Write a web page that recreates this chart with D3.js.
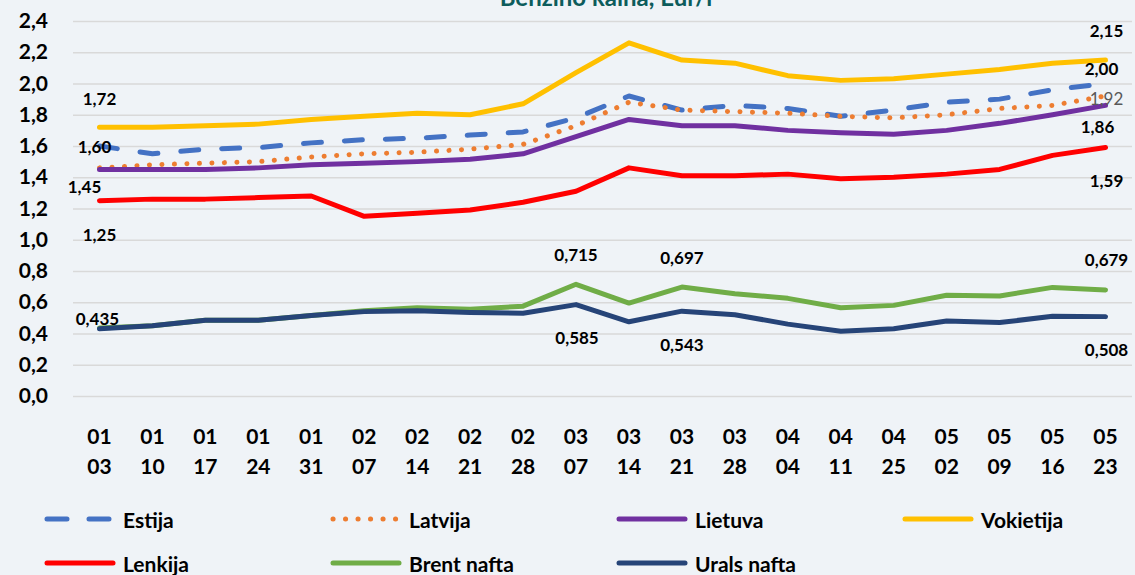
<!DOCTYPE html>
<html>
<head>
<meta charset="utf-8">
<script src="https://cdn.jsdelivr.net/npm/d3@7"></script>
<style>
  body { margin: 0; background: #eff3f7; }
  svg { display: block; font-family: Lato, "Open Sans", sans-serif; }
</style>
</head>
<body>
<svg id="chart" width="1135" height="575"></svg>
<script>
// data
var categories = ["01 03","01 10","01 17","01 24","01 31","02 07","02 14","02 21","02 28","03 07",
                  "03 14","03 21","03 28","04 04","04 11","04 25","05 02","05 09","05 16","05 23"];

var estija    = [1.60,1.55,1.58,1.59,1.62,1.64,1.65,1.67,1.69,1.78,1.92,1.83,1.86,1.84,1.79,1.83,1.88,1.90,1.96,2.00];
var latvija   = [1.46,1.48,1.49,1.50,1.53,1.55,1.56,1.58,1.61,1.73,1.88,1.83,1.82,1.81,1.79,1.78,1.80,1.84,1.86,1.92];
var lietuva   = [1.45,1.45,1.45,1.46,1.48,1.49,1.50,1.515,1.55,1.66,1.77,1.73,1.73,1.70,1.685,1.675,1.70,1.745,1.80,1.86];
var vokietija = [1.72,1.72,1.73,1.74,1.77,1.79,1.81,1.80,1.87,2.07,2.26,2.15,2.13,2.05,2.02,2.03,2.06,2.09,2.13,2.15];
var lenkija   = [1.25,1.26,1.26,1.27,1.28,1.15,1.17,1.19,1.24,1.31,1.46,1.41,1.41,1.42,1.39,1.40,1.42,1.45,1.54,1.59];
var brent     = [0.435,0.45,0.485,0.485,0.515,0.545,0.565,0.555,0.575,0.715,0.595,0.697,0.655,0.625,0.565,0.58,0.645,0.64,0.695,0.679];
var urals     = [0.43,0.45,0.485,0.485,0.515,0.54,0.545,0.535,0.53,0.585,0.475,0.543,0.52,0.46,0.415,0.43,0.48,0.47,0.51,0.508];

var yTicks = [0,0.2,0.4,0.6,0.8,1.0,1.2,1.4,1.6,1.8,2.0,2.2,2.4];
var title = "Benzino kaina, Eur/l";

var series = [
  {name: "Estija",      values: estija,    color: "#4472c4", dash: "18 23"},
  {name: "Latvija",     values: latvija,   color: "#ed7d31", dash: "0.1 12.4"},
  {name: "Lietuva",     values: lietuva,   color: "#7030a0", dash: null},
  {name: "Vokietija",   values: vokietija, color: "#ffc000", dash: null},
  {name: "Lenkija",     values: lenkija,   color: "#ff0000", dash: null},
  {name: "Brent nafta", values: brent,     color: "#70ad47", dash: null},
  {name: "Urals nafta", values: urals,     color: "#264478", dash: null}
];

// which points get a value label: [series index, point index, decimals, dx, dy, grey]
var labels = [
  [3, 0, 2, 0, -29], [0, 0, 2, -5, 0], [2, 0, 2, -15, 17], [4, 0, 2, 0, 34], [5, 0, 3, -2, -10],
  [5, 9, 3, 0, -30], [6, 9, 3, 1, 33], [5, 11, 3, 0, -30], [6, 11, 3, 0, 33],
  [5, 19, 3, 1, -30], [6, 19, 3, 1, 33],
  [3, 19, 2, 1, -30], [0, 19, 2, -4, -15], [1, 19, 2, 1, 2, true], [2, 19, 2, -8, 21], [4, 19, 2, 1, 33]
];

var svg = d3.select("#chart");
var plotLeft = 73, plotRight = 1132, plotTop = 21, plotBottom = 396;

var x = d3.scaleBand().domain(categories).range([plotLeft, plotRight]);
var cx = function(c) { return x(c) + x.bandwidth() / 2; };
var y = d3.scaleLinear().domain([0, 2.4]).range([plotBottom, plotTop]);
var comma = function(v, dec) { return v.toFixed(dec).replace(".", ","); };

svg.append("rect").attr("width", 1135).attr("height", 575).attr("fill", "#eff3f7");

// y axis with grid
var yAxis = svg.append("g")
  .attr("transform", "translate(" + plotLeft + ",0)")
  .call(d3.axisLeft(y).tickValues(yTicks).tickSize(-(plotRight - plotLeft)).tickPadding(25)
    .tickFormat(function(d) { return comma(d, 1); }));
yAxis.select(".domain").remove();
yAxis.selectAll("line").attr("stroke", "#d9d9d9").attr("stroke-width", 1.5);
yAxis.selectAll("text").attr("font-size", 21).attr("font-weight", 700).attr("fill", "#000")
  .attr("font-family", "Lato, sans-serif");

// title, mostly cut off at the top edge
svg.append("text")
  .attr("x", 606).attr("y", 6)
  .attr("text-anchor", "middle")
  .attr("font-size", 24).attr("font-weight", 700)
  .attr("fill", "#0d5c5c")
  .text(title);

// x labels on two rows
var xl = svg.append("g").selectAll("text").data(categories).enter().append("text")
  .attr("text-anchor", "middle")
  .attr("font-size", 21).attr("font-weight", 700).attr("fill", "#000");
xl.append("tspan").attr("x", cx).attr("y", 444).text(function(d) { return d.split(" ")[0]; });
xl.append("tspan").attr("x", cx).attr("y", 474).text(function(d) { return d.split(" ")[1]; });

// lines
var line = d3.line()
  .x(function(d, i) { return cx(categories[i]); })
  .y(function(d) { return y(d); });

svg.append("g").selectAll("path").data(series).enter().append("path")
  .attr("d", function(s) { return line(s.values); })
  .attr("fill", "none")
  .attr("stroke", function(s) { return s.color; })
  .attr("stroke-width", 5)
  .attr("stroke-linecap", "round")
  .attr("stroke-linejoin", "round")
  .attr("stroke-dasharray", function(s) { return s.dash; });

// value labels
svg.append("g").selectAll("text").data(labels).enter().append("text")
  .attr("x", function(l) { return cx(categories[l[1]]) + l[3]; })
  .attr("y", function(l) { return y(series[l[0]].values[l[1]]) + l[4]; })
  .attr("text-anchor", "middle")
  .attr("dominant-baseline", "central")
  .attr("font-size", 17)
  .attr("font-weight", function(l) { return l[5] ? 400 : 700; })
  .attr("fill", function(l) { return l[5] ? "#595959" : "#000"; })
  .text(function(l) { return comma(series[l[0]].values[l[1]], l[2]); });

// legend, 4 columns
var leg = svg.append("g").selectAll("g").data(series).enter().append("g")
  .attr("transform", function(s, i) {
    return "translate(" + (45 + (i % 4) * 286) + "," + (519 + Math.floor(i / 4) * 44) + ")";
  });
leg.append("line")
  .attr("x1", 2).attr("x2", 68)
  .attr("stroke", function(s) { return s.color; })
  .attr("stroke-width", 5)
  .attr("stroke-linecap", "round")
  .attr("stroke-dasharray", function(s) { return s.name == "Estija" ? "20 22" : s.dash; });
leg.append("text")
  .attr("x", 78).attr("dominant-baseline", "central")
  .attr("font-size", 21).attr("font-weight", 700).attr("fill", "#000")
  .text(function(s) { return s.name; });
</script>
</body>
</html>
